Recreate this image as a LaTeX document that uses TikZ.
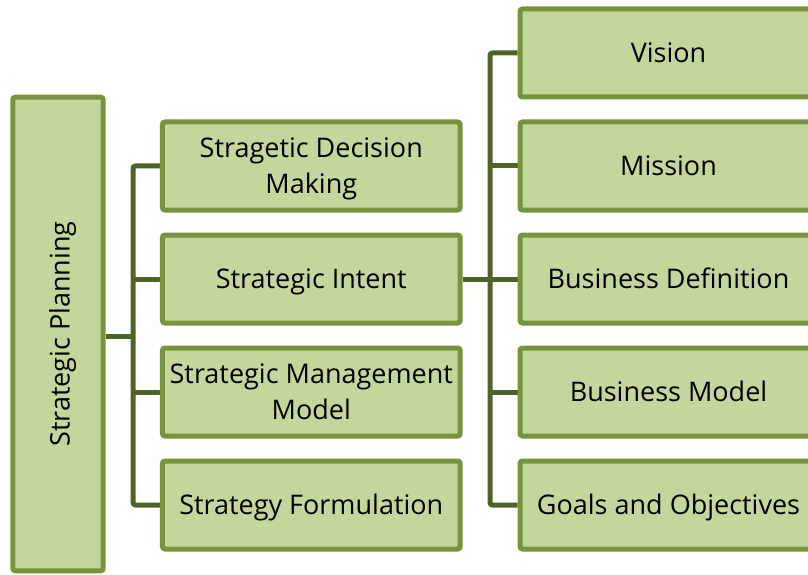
\documentclass[tikz,border=0pt]{standalone}
\usepackage{fontspec}
\setmainfont{Open Sans}
\usetikzlibrary{backgrounds}
\definecolor{boxfill}{HTML}{C3D69B}
\definecolor{boxline}{HTML}{77933C}
\definecolor{conn}{HTML}{4F6228}
\tikzset{
  lbl/.style={font=\fontsize{27}{36}\selectfont, text height=19.4pt, text depth=0pt, text=black},
  box/.style={draw=boxline, fill=boxfill, line width=5pt, rounded corners=2.5pt,
    rectangle, inner sep=0pt, align=center, lbl},
  twoline/.style={text height=55.4pt},
  midbox/.style={box, minimum width=297.7pt, minimum height=88pt},
  rightbox/.style={box, minimum width=297pt, minimum height=88pt},
  link/.style={draw=conn, line width=5pt, rounded corners=2.5pt}
}
\begin{document}
\begin{tikzpicture}[x=1pt,y=1pt]
\useasboundingbox (0,0) rectangle (808,574);
\clip (0,0) rectangle (808,574);
% left box
\node[box, minimum width=90.4pt, minimum height=473.6pt] (sp) at (58,240) {};
\node[rotate=90, lbl, inner sep=0pt] (spt) at (60,240) {Strategic Planning};
% middle boxes
\node[midbox, twoline] (m1) at (311.3,408) {Stragetic Decision\\Making};
\node[midbox] (m2) at (311.3,295) {Strategic Intent};
\node[midbox, twoline] (m3) at (311.3,182) {Strategic Management\\Model};
\node[midbox] (m4) at (311.3,69) {Strategy Formulation};
% right boxes
\node[rightbox] (r1) at (668.5,521) {Vision};
\node[rightbox] (r2) at (668.5,408) {Mission};
\node[rightbox] (r3) at (668.5,295) {Business Definition};
\node[rightbox] (r4) at (668.5,182) {Business Model};
\node[rightbox] (r5) at (668.5,69) {Goals and Objectives};
\coordinate (lj) at (133,238);
\coordinate (rj) at (490,295);
\begin{scope}[on background layer]
\draw[link] (sp.east |- lj) -- (lj);
\draw[link] (m1.west) -| (lj) |- (m4.west);
\draw[link] (lj |- m2.west) -- (m2.west);
\draw[link] (lj |- m3.west) -- (m3.west);
\draw[link] (m2.east) -- (rj);
\draw[link] (r1.west) -| (rj) |- (r5.west);
\draw[link] (rj |- r2.west) -- (r2.west);
\draw[link] (rj |- r3.west) -- (r3.west);
\draw[link] (rj |- r4.west) -- (r4.west);
\end{scope}
\end{tikzpicture}
\end{document}
